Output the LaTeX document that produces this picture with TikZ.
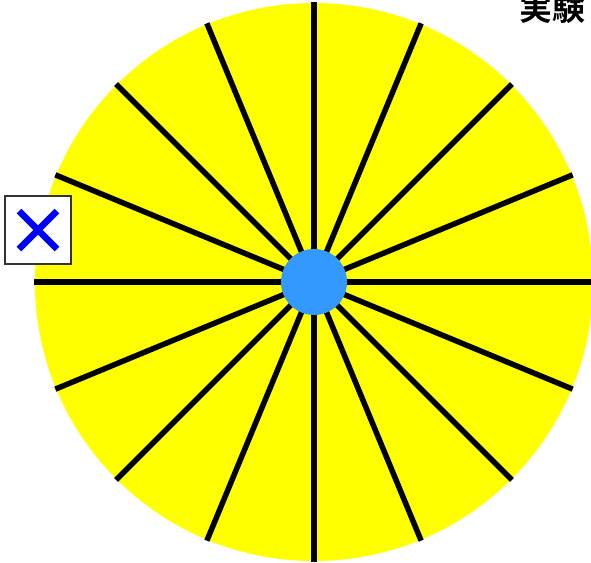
\documentclass[tikz,border=0pt]{standalone}
\usepackage{fontspec}
\newfontfamily\cjk{Noto Sans CJK JP}[BoldFont={Noto Sans CJK JP Bold}]
\definecolor{discyellow}{HTML}{FFFF00}
\definecolor{dotblue}{HTML}{3399FF}
\definecolor{crossblue}{HTML}{0000FF}
\tikzset{
  spoke/.style={line width=5.5pt},
  markbox/.style={draw=black!80, fill=white, line width=1.2pt, minimum width=66pt, minimum height=68pt, inner sep=0pt}
}
\begin{document}
\begin{tikzpicture}[x=1pt,y=-1pt]
\useasboundingbox (0,0) rectangle (591,562);
\def\R{279pt}
\def\L{280pt}
\coordinate (M) at (314,282);
% Scheibe
\fill[discyellow] (M) circle (\R);
% Speichen alle 22.5 Grad
\foreach \a in {0,22.5,...,337.5}
  \draw[spoke] (M) -- ++(\a:\L);
% Mittelpunkt
\fill[dotblue] (M) circle (33pt);
% Titel oben rechts
\node[font=\cjk\bfseries\fontsize{33}{33}\selectfont, anchor=base east, inner sep=0pt] (title) at (586,20) {実験};
% Kreuz im Kasten
\node[markbox] (xbox) at (38,230) {};
\draw[crossblue, line width=6.5pt] ([shift={(-19,-19)}]xbox.center) -- ([shift={(19,19)}]xbox.center);
\draw[crossblue, line width=6.5pt] ([shift={(-19,19)}]xbox.center) -- ([shift={(19,-19)}]xbox.center);
\end{tikzpicture}
\end{document}
